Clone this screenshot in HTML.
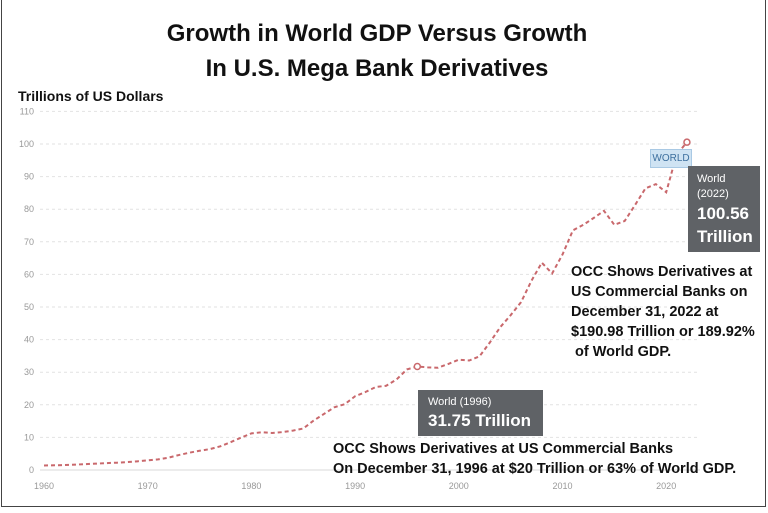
<!DOCTYPE html>
<html><head><meta charset="utf-8"><style>
body{margin:0;background:#fff;width:768px;height:513px;overflow:hidden;font-family:"Liberation Sans",sans-serif}
#frame{position:absolute;left:1px;top:0;width:763px;height:506px;border:1px solid #444;border-top:none}
.t{position:absolute;white-space:nowrap}
</style></head><body>
<div id="frame"></div>
<div class="t" style="left:0;width:754px;top:16px;text-align:center;font-size:24px;font-weight:bold;line-height:35px;color:#111">Growth in World GDP Versus Growth<br>In U.S. Mega Bank Derivatives</div>
<div class="t" style="left:18px;top:88px;font-size:14px;font-weight:bold;color:#111">Trillions of US Dollars</div>
<svg id="chart" width="768" height="513" style="position:absolute;left:0;top:0"></svg>
<div class="t" style="left:571px;top:262px;font-size:14.5px;font-weight:bold;line-height:20px;color:#111">OCC Shows Derivatives at<br>US Commercial Banks on<br>December 31, 2022 at<br>$190.98 Trillion or 189.92%<br>&nbsp;of World GDP.</div>
<div class="t" style="left:333px;top:439px;font-size:14.5px;font-weight:bold;line-height:20px;color:#111">OCC Shows Derivatives at US Commercial Banks<br>On December 31, 1996 at $20 Trillion or 63% of World GDP.</div>
<div class="t" style="left:418px;top:390px;width:125px;height:46px;background:#5f6266;color:#fff">
<div style="position:absolute;left:10px;top:6px;font-size:11px">World (1996)</div>
<div style="position:absolute;left:10px;top:21px;font-size:17px;font-weight:bold">31.75 Trillion</div></div>
<div class="t" style="left:650px;top:149px;width:40px;height:17px;background:#cfe3f3;border:1px solid #a9c9e4;color:#3d6f9e;font-size:10px;line-height:17px;text-align:center">WORLD</div>
<div class="t" style="left:688px;top:166px;width:72px;height:86px;background:#5f6266;color:#fff">
<div style="position:absolute;left:9px;top:6px;font-size:11px;line-height:15px">World<br>(2022)</div>
<div style="position:absolute;left:9px;top:36px;font-size:17px;font-weight:bold;line-height:23px">100.56<br>Trillion</div></div>
<script>
const years=[1960,1961,1962,1963,1964,1965,1966,1967,1968,1969,1970,1971,1972,1973,1974,1975,1976,1977,1978,1979,1980,1981,1982,1983,1984,1985,1986,1987,1988,1989,1990,1991,1992,1993,1994,1995,1996,1997,1998,1999,2000,2001,2002,2003,2004,2005,2006,2007,2008,2009,2010,2011,2012,2013,2014,2015,2016,2017,2018,2019,2020,2021,2022];
const gdp=[1.39,1.44,1.54,1.65,1.8,1.95,2.11,2.24,2.42,2.66,2.96,3.26,3.77,4.59,5.3,5.9,6.41,7.26,8.54,9.93,11.23,11.57,11.36,11.62,12.09,12.73,15.16,17.2,19.25,20.17,22.63,23.92,25.46,25.84,27.78,30.87,31.75,31.49,31.37,32.55,33.83,33.58,34.87,39.14,43.83,47.49,51.48,58.0,63.6,60.3,66.1,73.5,75.2,77.3,79.5,75.2,76.4,81.3,86.4,87.7,85.2,96.7,100.56];
const yTicks=[0,10,20,30,40,50,60,70,80,90,100,110];
const xTicks=[1960,1970,1980,1990,2000,2010,2020];
const highlights=[1996,2022];
const NS="http://www.w3.org/2000/svg";
const svg=document.getElementById('chart');
const x=v=>44+(v-1960)*10.37;
const y=v=>470-v*3.26;
function mk(t,a){const e=document.createElementNS(NS,t);for(const k in a)e.setAttribute(k,a[k]);svg.appendChild(e);return e;}
yTicks.forEach(v=>{
 const l=mk('line',{x1:40,x2:700,y1:y(v),y2:y(v),stroke:v?'#e2e2e2':'#d8d8d8','stroke-dasharray':v?'3,3':'none'});
 
 
 const t=mk('text',{x:34,y:y(v)+3,'text-anchor':'end','font-size':9,fill:'#999','font-family':'Liberation Sans'});
 t.textContent=v;
 
 
});
xTicks.forEach(v=>{
 const t=mk('text',{x:x(v),y:489,'text-anchor':'middle','font-size':9,fill:'#999','font-family':'Liberation Sans'});
 t.textContent=v;
 
 
});
const p=mk('polyline',{points:years.map((yr,i)=>x(yr)+','+y(gdp[i])).join(' '),fill:'none',stroke:'#c9686c','stroke-width':2,'stroke-dasharray':'4,3'});


highlights.forEach(h=>{
 const i=years.indexOf(h);
 const c=mk('circle',{cx:x(h),cy:y(gdp[i]),r:3,fill:'#fff',stroke:'#c9686c','stroke-width':1.5});
 
 
});
</script>
</body></html>
